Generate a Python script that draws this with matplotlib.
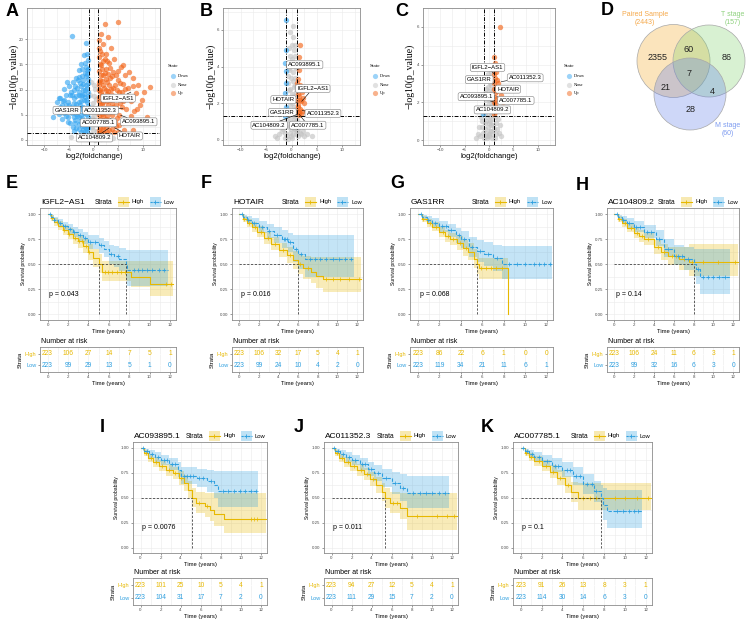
import matplotlib
matplotlib.use("Agg")
import matplotlib.pyplot as plt
from matplotlib.patches import Circle, Rectangle
import numpy as np

plt.rcParams['font.family'] = ['Liberation Sans', 'DejaVu Sans']

W, H = 753, 628
fig = plt.figure(figsize=(W / 100, H / 100), dpi=100)

# ---------------- volcano data (log2FC, -log10 p) ----------------
a_down = [(-4.4, 20.7), (-1.6, 19.2), (-1.3, 17.0), (-2.0, 16.9), (-1.2, 15.8), (-2.5, 15.0), (-1.5, 14.5),
          (-3.0, 13.8), (-1.8, 13.2), (-2.3, 12.6), (-1.2, 12.2), (-3.6, 12.4), (-4.2, 11.5), (-2.8, 11.3),
          (-1.6, 11.0), (-5.0, 10.8), (-3.4, 10.3), (-2.1, 10.0), (-1.2, 9.6), (-6.0, 10.2), (-4.6, 9.6),
          (-5.6, 9.0), (-3.0, 9.0), (-1.8, 8.6), (-6.8, 8.4), (-4.0, 8.3), (-2.5, 7.8), (-1.3, 7.5),
          (-7.5, 7.6), (-5.2, 7.6), (-3.5, 7.2), (-6.3, 6.9), (-4.6, 6.6), (-2.2, 6.6), (-1.5, 6.0),
          (-7.9, 6.1), (-5.8, 5.9), (-3.2, 5.7), (-7.0, 5.2), (-4.3, 5.3), (-2.6, 5.0), (-1.2, 4.6),
          (-5.1, 4.5), (-6.4, 4.2), (-3.7, 4.0), (-1.9, 3.8), (-4.8, 3.3), (-2.9, 3.1), (-1.4, 2.8),
          (-3.5, 2.3), (-2.2, 2.0), (-1.3, 1.6), (-2.6, 1.5), (-8.2, 4.5), (-6.2, 7.8), (-3.9, 9.9),
          (-5.3, 11.6), (-2.4, 14.0), (-1.7, 15.2), (-3.2, 12.0), (-1.4, 10.4), (-2.0, 9.2), (-1.5, 8.0),
          (-2.8, 6.2), (-1.9, 5.4), (-3.0, 4.5), (-2.3, 3.4), (-1.6, 2.3), (-4.0, 6.2), (-2.6, 8.8),
          (-1.1, 14.0), (-1.4, 13.0), (-2.1, 12.0), (-1.1, 11.4), (-2.6, 10.8), (-1.7, 10.0), (-3.0, 9.6),
          (-2.3, 9.0), (-1.1, 8.8), (-3.6, 8.8), (-4.4, 8.9), (-1.9, 7.9), (-3.0, 7.6), (-4.0, 7.4),
          (-4.9, 7.0), (-2.7, 7.0), (-1.2, 6.8), (-3.7, 6.5), (-5.3, 6.4), (-2.0, 5.8), (-3.6, 5.2),
          (-4.7, 5.9), (-6.0, 5.3), (-1.5, 5.2), (-2.4, 4.4), (-3.3, 4.8), (-4.0, 4.6), (-5.6, 4.8),
          (-1.2, 3.6), (-2.8, 3.8), (-3.8, 3.3), (-5.2, 3.6), (-1.9, 2.7), (-2.4, 2.7), (-3.0, 2.2),
          (-4.2, 2.6), (-1.2, 2.3), (-1.8, 1.8), (-3.9, 1.7), (-1.6, 12.6), (-2.9, 12.5), (-1.3, 13.8),
          (-2.2, 11.2), (-3.8, 10.8), (-4.8, 9.0), (-5.6, 7.0), (-6.8, 6.6), (-6.0, 8.0), (-7.1, 8.4)]
a_none = [(-0.5, 11.5), (0.3, 10.2), (-0.7, 9.0), (0.6, 8.1), (-0.2, 7.3), (0.8, 6.4), (-0.6, 5.6),
          (0.2, 4.8), (-0.8, 4.0), (0.5, 3.2), (-0.3, 2.5), (0.7, 1.8), (-0.5, 1.2), (0.1, 0.6),
          (0.9, 0.3), (-0.9, 0.5), (0.4, -0.1), (-2.0, 0.8), (1.8, 0.9), (-3.0, 0.4), (2.8, 0.5),
          (-1.4, 0.2), (1.5, 0.1), (4.0, 0.3), (-4.5, 0.6), (0.0, 8.8), (-0.4, 6.6), (0.5, 5.5),
          (0.2, 3.9), (-0.1, 2.0), (0.4, 1.0), (-0.6, 0.2), (0.7, 0.7), (-0.3, 4.4), (0.1, 10.9)]
a_up = [(2.4, 23.0), (4.9, 23.5), (1.6, 21.0), (3.0, 20.5), (1.2, 19.8), (2.0, 19.0), (3.6, 18.3),
        (1.4, 17.6), (2.6, 17.0), (1.1, 16.4), (4.2, 16.0), (2.0, 15.7), (3.2, 15.3), (1.5, 14.8),
        (5.5, 14.5), (2.6, 14.1), (1.2, 13.6), (4.0, 13.4), (7.2, 13.5), (6.4, 12.8), (2.0, 12.8),
        (3.4, 12.4), (1.4, 12.0), (5.0, 12.0), (8.0, 12.4), (2.8, 11.6), (1.1, 11.0), (4.4, 11.0),
        (6.0, 11.2), (9.0, 11.0), (2.1, 10.4), (3.6, 10.2), (7.0, 10.3), (1.5, 9.6), (5.2, 9.5),
        (2.8, 9.2), (8.6, 9.4), (4.2, 8.8), (1.2, 8.5), (6.4, 8.6), (3.4, 8.0), (2.0, 7.6),
        (7.6, 7.7), (5.4, 7.4), (1.4, 6.9), (9.5, 7.0), (4.0, 6.6), (2.6, 6.4), (6.6, 6.2),
        (1.2, 5.8), (3.4, 5.5), (8.2, 5.7), (5.2, 5.0), (2.0, 4.8), (1.3, 4.2), (3.0, 4.0),
        (10.8, 4.6), (4.4, 3.6), (1.8, 3.2), (6.0, 3.3), (2.6, 2.5), (1.2, 2.0), (3.8, 2.2),
        (8.0, 2.0), (1.6, 1.5), (5.0, 1.6), (2.2, 1.4), (7.0, 1.2), (11.5, 10.5), (1.8, 11.8),
        (2.4, 8.4), (1.7, 5.1), (3.0, 6.9), (2.2, 3.6), (1.3, 10.0), (2.9, 13.0),
        (1.2, 18.2), (1.8, 17.0), (2.3, 16.0), (1.3, 15.0), (2.7, 15.7), (3.4, 14.2), (1.8, 14.0),
        (2.3, 13.2), (3.8, 12.6), (1.5, 12.8), (2.6, 12.2), (4.6, 12.9), (1.2, 11.6), (3.2, 11.0),
        (5.3, 11.4), (1.9, 11.0), (2.5, 10.0), (4.0, 10.4), (1.2, 9.9), (3.0, 9.8), (4.8, 10.0),
        (6.3, 10.2), (1.8, 9.0), (3.6, 9.2), (5.8, 9.6), (2.2, 8.6), (4.6, 8.2), (1.1, 7.8),
        (2.8, 7.8), (3.8, 7.4), (6.0, 7.8), (1.7, 7.2), (4.6, 6.9), (2.2, 6.4), (3.2, 6.2),
        (5.8, 6.6), (1.1, 6.2), (2.4, 5.6), (4.3, 5.8), (1.6, 5.8), (3.8, 4.9), (2.8, 4.8),
        (1.1, 4.9), (4.8, 4.3), (2.5, 4.2), (1.9, 4.0), (3.4, 3.3), (1.1, 3.5), (2.8, 3.2),
        (5.2, 3.0), (2.0, 2.6), (4.5, 2.7), (1.4, 2.6), (3.1, 1.9), (1.9, 1.9), (2.7, 1.6),
        (4.2, 1.5), (6.2, 1.9), (1.1, 1.3), (9.8, 8.0), (8.8, 6.2), (7.6, 4.8), (10.2, 9.5),
        (8.0, 10.8), (7.0, 8.7), (5.0, 13.6), (6.0, 14.8)]
a_labels = [("IGFL2\u2212AS1", 5.0, 8.3, 7.6, 9.5), ("GAS1RR", -5.4, 5.9, -2.5, 6.7),
            ("AC011352.3", 1.4, 5.9, 6.0, 6.3), ("AC007785.1", 1.0, 3.4, 3.6, 4.3),
            ("AC093895.1", 9.2, 3.6, 5.5, 4.9), ("AC104809.2", 0.2, 0.4, 3.2, 2.4),
            ("HOTAIR", 7.4, 0.8, 4.3, 2.4)]

b_down = [(-1.1, 6.57), (-1.1, 4.9), (-1.2, 4.17), (-1.1, 3.74), (-1.1, 3.09), (-1.2, 2.54),
          (-1.2, 2.2), (-1.1, 1.77), (-1.3, 1.33)]
b_none = [(0.3, 5.6), (-0.5, 5.0), (0.6, 4.6), (-0.2, 4.2), (0.8, 3.9), (-0.7, 3.5), (0.2, 3.2),
          (0.9, 2.9), (-0.4, 2.7), (0.5, 2.4), (-0.8, 2.2), (0.1, 2.0), (0.7, 1.7), (-0.6, 1.5),
          (0.3, 1.3), (-0.2, 1.1), (0.8, 0.9), (-0.7, 0.8), (0.4, 0.6), (-0.3, 0.4), (0.9, 0.3),
          (-0.9, 0.2), (0.0, 0.1), (1.5, 0.8), (2.2, 0.5), (-1.6, 0.6), (3.0, 0.3), (-2.4, 0.3),
          (1.3, 0.2), (-1.2, 0.1), (4.0, 0.2), (2.6, 0.9), (-3.2, 0.2), (-0.1, 0.6), (0.5, 1.0),
          (1.9, 0.3), (-2.0, 1.0), (0.2, 6.2), (-0.4, 3.8), (0.6, 3.0), (1.1, 0.5), (-0.6, 0.05),
          (0.0, 5.2), (0.4, 4.9), (-0.3, 4.6), (0.1, 4.4), (0.5, 4.1), (-0.5, 3.9), (0.3, 3.7),
          (-0.1, 3.4), (0.6, 3.4), (-0.6, 3.1), (0.4, 2.9), (-0.2, 2.8), (0.8, 2.6), (0.1, 2.5),
          (-0.5, 2.3), (0.3, 2.2), (0.9, 2.1), (-0.3, 1.9), (0.5, 1.8), (-0.8, 1.7), (0.2, 1.6),
          (0.8, 1.4), (-0.4, 1.4), (0.6, 1.2), (-0.8, 1.1), (0.1, 0.9), (-0.5, 0.7), (0.7, 0.6),
          (1.2, 0.6), (-1.2, 0.4), (1.7, 0.4), (-1.9, 0.5), (2.4, 0.2), (-2.8, 0.1), (0.3, 0.3),
          (-0.1, 0.2), (1.0, 1.1), (0.6, 5.2), (-0.2, 5.9)]
b_up = [(1.6, 5.2), (1.5, 4.5), (1.4, 3.8), (1.3, 3.3), (1.7, 3.0), (1.2, 2.8), (2.0, 2.6),
        (1.5, 2.4), (1.1, 2.2), (1.8, 2.1), (2.4, 2.0), (1.3, 1.9), (1.6, 1.7), (2.1, 1.6),
        (1.2, 1.5), (1.9, 1.4), (2.8, 1.5), (1.4, 1.35), (2.2, 2.3), (1.1, 3.1), (1.3, 2.5),
        (1.7, 2.2), (1.2, 1.8), (1.5, 1.5)]
b_labels = [("AC093895.1", 2.6, 4.1, 1.4, 3.85), ("IGFL2\u2212AS1", 4.2, 2.8, 2.0, 2.1),
            ("HOTAIR", -1.6, 2.2, 1.3, 2.0), ("GAS1RR", -1.8, 1.5, 1.3, 1.6),
            ("AC011352.3", 6.2, 1.45, 2.1, 1.6), ("AC104809.2", -4.4, 0.8, 1.2, 1.4),
            ("AC007785.1", 3.2, 0.8, 1.5, 1.4)]

c_down = [(-1.3, 1.4), (-1.1, 1.6)]
c_none = [(0.2, 3.0), (-0.6, 2.7), (0.5, 2.5), (-0.3, 2.2), (0.8, 2.0), (-0.8, 1.8), (0.1, 1.6),
          (0.6, 1.4), (-0.5, 1.2), (0.3, 1.0), (-0.9, 0.9), (0.9, 0.8), (-0.2, 0.7), (0.4, 0.5),
          (-0.6, 0.4), (0.7, 0.3), (-0.4, 0.1), (0.1, 0.2), (1.4, 0.9), (-1.5, 0.7), (2.0, 0.4),
          (-2.2, 0.3), (1.2, 0.1), (-1.1, 0.1), (1.8, 1.1), (-1.7, 1.2), (0.0, 2.6), (-0.1, 1.9),
          (-0.2, 2.8), (0.4, 2.9), (-0.5, 2.4), (0.7, 2.3), (-0.1, 2.1), (0.3, 2.2), (-0.7, 2.1),
          (0.5, 1.8), (-0.3, 1.6), (0.8, 1.6), (-0.9, 1.4), (0.2, 1.3), (-0.6, 1.0), (0.7, 1.1),
          (-0.1, 0.9), (0.5, 0.8), (-0.8, 0.6), (0.2, 0.5), (1.0, 0.6), (-1.2, 0.4), (1.5, 0.3),
          (-1.8, 0.2), (2.4, 0.2), (-2.6, 0.1), (0.0, 0.3), (-0.4, 0.2), (0.6, 0.1), (1.7, 0.6),
          (-1.4, 1.0), (1.3, 1.2), (-2.0, 0.7), (2.2, 0.8), (0.9, 2.7), (-0.9, 2.5), (0.1, 3.3),
          (-0.3, 3.5), (0.4, 3.6)]
c_up = [(2.3, 6.0), (1.0, 4.4), (1.2, 4.1), (1.1, 3.8), (1.4, 3.6), (1.0, 3.5), (1.3, 3.3),
        (1.6, 3.2), (1.1, 3.0), (1.4, 2.8), (1.0, 2.7), (1.2, 2.5), (1.7, 2.6), (1.1, 2.3),
        (1.5, 2.2), (1.0, 2.0), (1.3, 1.9), (2.0, 2.1), (1.1, 1.7), (1.6, 1.6), (1.2, 1.5),
        (1.0, 1.4), (2.4, 2.4), (2.8, 2.0), (1.8, 3.0)]
c_labels = [("IGFL2\u2212AS1", -0.3, 3.85, 1.1, 3.5), ("GAS1RR", -2.0, 3.2, 1.0, 3.0),
            ("AC011352.3", 7.4, 3.3, 2.5, 3.1), ("HOTAIR", 3.9, 2.7, 1.5, 2.6),
            ("AC093895.1", -2.6, 2.3, 1.2, 2.0), ("AC007785.1", 5.5, 2.1, 1.6, 2.3),
            ("AC104809.2", 0.7, 1.6, 1.3, 1.5)]

# ---------------- Venn data ----------------
venn_sets = ["Paired Sample", "T stage", "M stage"]
venn_totals = [2443, 157, 60]
venn_counts = {"P": 2355, "T": 86, "M": 28, "PT": 60, "PM": 21, "TM": 4, "PTM": 7}

# ---------------- survival data (time, survival, lower CI, upper CI) ----------------
risk_times = [0, 2, 4, 6, 8, 10, 12]

e_h_t = [0, 0.3, 0.6, 1.0, 1.5, 2.0, 2.5, 3.0, 3.5, 4.0, 4.5, 5.0, 5.3, 8.2, 10.0]
e_h_s = [1.0, 0.96, 0.92, 0.88, 0.84, 0.80, 0.76, 0.73, 0.68, 0.62, 0.56, 0.50, 0.42, 0.37, 0.30]
e_h_lo = [1.0, 0.93, 0.88, 0.84, 0.79, 0.75, 0.70, 0.66, 0.61, 0.54, 0.47, 0.41, 0.33, 0.27, 0.18]
e_h_hi = [1.0, 0.99, 0.96, 0.93, 0.89, 0.86, 0.82, 0.79, 0.75, 0.70, 0.65, 0.60, 0.53, 0.53, 0.53]
e_l_t = [0, 0.3, 0.6, 1.0, 1.5, 2.0, 2.5, 3.0, 3.5, 4.0, 5.0, 5.5, 6.0, 6.5, 7.0, 7.7, 7.8]
e_l_s = [1.0, 0.97, 0.94, 0.91, 0.88, 0.85, 0.82, 0.79, 0.76, 0.72, 0.69, 0.65, 0.60, 0.58, 0.55, 0.50, 0.44]
e_l_lo = [1.0, 0.95, 0.91, 0.87, 0.84, 0.80, 0.77, 0.73, 0.70, 0.65, 0.61, 0.57, 0.50, 0.47, 0.43, 0.36, 0.28]
e_l_hi = [1.0, 0.99, 0.97, 0.95, 0.92, 0.90, 0.87, 0.85, 0.82, 0.79, 0.76, 0.73, 0.69, 0.68, 0.66, 0.64, 0.64]
e_h_cens = [0.4, 0.9, 1.6, 2.1, 2.7, 3.1, 3.4, 3.8, 4.1, 5.6, 5.9, 6.3, 6.8, 7.2, 7.6, 11.6, 12.1]
e_l_cens = [0.2, 0.6, 1.2, 1.7, 2.2, 2.6, 3.2, 3.7, 4.2, 4.6, 5.2, 6.2, 6.9, 8.5, 8.9, 9.3, 9.8, 10.2, 10.9, 11.4]
e_risk_h = [223, 106, 27, 14, 7, 5, 1]
e_risk_l = [223, 99, 29, 13, 5, 1, 0]

f_h_t = [0, 0.4, 0.8, 1.3, 1.8, 2.5, 3.2, 4.0, 4.9, 5.5, 6.0, 6.5, 7.3, 7.8, 8.5]
f_h_s = [1.0, 0.95, 0.91, 0.87, 0.82, 0.76, 0.70, 0.64, 0.59, 0.54, 0.50, 0.46, 0.42, 0.38, 0.35]
f_h_lo = [1.0, 0.92, 0.87, 0.82, 0.77, 0.70, 0.64, 0.57, 0.51, 0.45, 0.40, 0.35, 0.31, 0.26, 0.22]
f_h_hi = [1.0, 0.98, 0.95, 0.92, 0.88, 0.82, 0.77, 0.71, 0.67, 0.63, 0.60, 0.58, 0.57, 0.57, 0.57]
f_l_t = [0, 0.4, 0.8, 1.3, 2.0, 2.8, 3.5, 4.3, 5.0, 5.5, 6.0, 6.7]
f_l_s = [1.0, 0.97, 0.94, 0.91, 0.87, 0.83, 0.79, 0.75, 0.72, 0.65, 0.60, 0.55]
f_l_lo = [1.0, 0.94, 0.90, 0.86, 0.81, 0.76, 0.71, 0.66, 0.62, 0.52, 0.45, 0.37]
f_l_hi = [1.0, 0.99, 0.98, 0.96, 0.93, 0.90, 0.87, 0.84, 0.81, 0.79, 0.79, 0.79]
f_h_cens = [0.5, 1.0, 1.6, 2.2, 2.9, 3.6, 4.4, 5.2, 6.2, 7.0, 8.8, 9.5, 10.3, 11.2, 12.2]
f_l_cens = [0.3, 0.9, 1.5, 2.3, 3.0, 3.8, 4.5, 4.7, 4.9, 5.2, 5.8, 6.3, 7.2, 7.7, 8.2, 8.8, 9.5, 10.2, 10.8, 11.4]
f_risk_h = [223, 106, 32, 17, 5, 4, 1]
f_risk_l = [223, 99, 24, 10, 4, 2, 0]

g_h_t = [0, 0.4, 0.8, 1.3, 2.0, 2.5, 3.0, 3.6, 4.2, 4.7, 5.2, 5.5, 5.7, 8.4]
g_h_s = [1.0, 0.95, 0.91, 0.87, 0.82, 0.78, 0.75, 0.71, 0.66, 0.62, 0.55, 0.50, 0.46, 0.0]
g_h_lo = [1.0, 0.92, 0.87, 0.83, 0.77, 0.72, 0.69, 0.64, 0.58, 0.54, 0.46, 0.40, 0.35, 0.0]
g_h_hi = [1.0, 0.98, 0.95, 0.92, 0.87, 0.84, 0.81, 0.78, 0.74, 0.71, 0.65, 0.61, 0.56, 0.0]
g_l_t = [0, 0.4, 0.8, 1.3, 2.0, 2.8, 3.5, 4.0, 4.8, 5.5, 6.2, 7.0, 7.8]
g_l_s = [1.0, 0.97, 0.94, 0.91, 0.88, 0.84, 0.79, 0.75, 0.67, 0.63, 0.60, 0.56, 0.50]
g_l_lo = [1.0, 0.94, 0.90, 0.86, 0.82, 0.77, 0.71, 0.66, 0.57, 0.52, 0.48, 0.43, 0.35]
g_l_hi = [1.0, 0.99, 0.98, 0.96, 0.93, 0.90, 0.86, 0.83, 0.77, 0.74, 0.72, 0.69, 0.68]
g_h_cens = [0.5, 1.1, 1.7, 2.3, 2.8, 3.3, 3.9, 4.5, 5.9, 6.3, 6.8, 7.3, 7.8]
g_l_cens = [0.3, 0.9, 1.6, 2.2, 2.6, 3.1, 3.8, 4.3, 5.0, 5.8, 6.5, 7.4, 8.5, 9.2, 10.0, 10.8, 11.3, 11.8, 12.3]
g_risk_h = [223, 86, 22, 6, 1, 0, 0]
g_risk_l = [223, 119, 34, 21, 11, 6, 1]

h_h_t = [0, 0.4, 0.8, 1.3, 2.0, 2.5, 3.0, 4.0, 4.7, 5.4, 6.5, 7.5]
h_h_s = [1.0, 0.95, 0.91, 0.86, 0.81, 0.78, 0.75, 0.67, 0.62, 0.58, 0.55, 0.52]
h_h_lo = [1.0, 0.92, 0.87, 0.82, 0.76, 0.72, 0.69, 0.60, 0.54, 0.49, 0.44, 0.38]
h_h_hi = [1.0, 0.98, 0.95, 0.91, 0.87, 0.84, 0.81, 0.74, 0.70, 0.67, 0.67, 0.70]
h_l_t = [0, 0.4, 0.8, 1.3, 2.0, 3.0, 4.2, 5.0, 6.0, 7.0, 8.0, 8.3, 8.7]
h_l_s = [1.0, 0.97, 0.94, 0.91, 0.87, 0.82, 0.75, 0.65, 0.58, 0.55, 0.50, 0.45, 0.37]
h_l_lo = [1.0, 0.94, 0.90, 0.86, 0.82, 0.76, 0.68, 0.57, 0.49, 0.44, 0.37, 0.30, 0.20]
h_l_hi = [1.0, 0.99, 0.98, 0.96, 0.93, 0.89, 0.84, 0.75, 0.69, 0.67, 0.65, 0.65, 0.65]
h_h_cens = [0.5, 1.1, 1.7, 2.3, 2.8, 3.4, 4.4, 5.0, 5.8, 6.2, 7.0, 7.8, 9.0, 10.5, 12.2]
h_l_cens = [0.3, 0.9, 1.5, 2.2, 2.6, 3.3, 3.7, 4.5, 5.4, 6.4, 6.8, 7.4, 8.5, 9.0, 9.5, 10.0, 10.6, 11.2]
h_risk_h = [223, 106, 24, 11, 6, 3, 1]
h_risk_l = [223, 99, 32, 16, 6, 3, 0]

i_h_t = [0, 0.3, 0.7, 1.2, 1.8, 2.5, 3.2, 3.8, 4.3, 4.7, 5.1, 5.5, 6.4, 6.9, 7.3, 8.3]
i_h_s = [1.0, 0.95, 0.90, 0.86, 0.82, 0.78, 0.75, 0.70, 0.65, 0.58, 0.50, 0.45, 0.42, 0.38, 0.34, 0.29]
i_h_lo = [1.0, 0.92, 0.86, 0.81, 0.77, 0.72, 0.69, 0.63, 0.57, 0.50, 0.41, 0.35, 0.31, 0.27, 0.22, 0.15]
i_h_hi = [1.0, 0.98, 0.94, 0.91, 0.88, 0.84, 0.81, 0.77, 0.73, 0.67, 0.60, 0.56, 0.55, 0.55, 0.55, 0.55]
i_l_t = [0, 0.3, 0.8, 1.4, 2.0, 2.8, 3.7, 4.0, 5.6, 6.6, 7.3, 7.7]
i_l_s = [1.0, 0.97, 0.94, 0.91, 0.88, 0.84, 0.78, 0.72, 0.70, 0.67, 0.63, 0.57]
i_l_lo = [1.0, 0.94, 0.90, 0.86, 0.83, 0.78, 0.71, 0.64, 0.61, 0.56, 0.50, 0.41]
i_l_hi = [1.0, 0.99, 0.98, 0.96, 0.93, 0.90, 0.86, 0.81, 0.79, 0.78, 0.77, 0.77]
i_h_cens = [0.5, 1.0, 1.5, 2.1, 2.8, 3.4, 4.0, 5.8, 6.6, 11.0, 11.3, 11.6]
i_l_cens = [0.2, 0.6, 1.1, 1.7, 2.3, 2.6, 3.1, 3.4, 4.3, 4.6, 4.9, 5.2, 5.8, 6.2, 7.0, 8.2, 8.7, 9.3, 9.9, 10.4, 11.0, 11.5]
i_risk_h = [223, 101, 25, 10, 5, 4, 1]
i_risk_l = [223, 104, 31, 17, 7, 2, 0]

j_h_t = [0, 0.3, 0.7, 1.2, 1.8, 2.5, 3.2, 3.8, 4.4, 5.0, 5.3, 5.8, 6.8, 7.5]
j_h_s = [1.0, 0.95, 0.90, 0.86, 0.82, 0.78, 0.74, 0.69, 0.63, 0.56, 0.50, 0.45, 0.40, 0.32]
j_h_lo = [1.0, 0.92, 0.86, 0.81, 0.77, 0.72, 0.68, 0.62, 0.55, 0.47, 0.40, 0.35, 0.29, 0.18]
j_h_hi = [1.0, 0.98, 0.94, 0.91, 0.88, 0.84, 0.80, 0.76, 0.71, 0.65, 0.60, 0.56, 0.55, 0.55]
j_l_t = [0, 0.3, 0.8, 1.4, 2.0, 2.8, 3.6, 4.2, 5.0, 6.0, 6.8, 7.5]
j_l_s = [1.0, 0.97, 0.94, 0.91, 0.88, 0.84, 0.79, 0.75, 0.70, 0.65, 0.60, 0.55]
j_l_lo = [1.0, 0.94, 0.90, 0.86, 0.83, 0.78, 0.72, 0.67, 0.61, 0.54, 0.47, 0.40]
j_l_hi = [1.0, 0.99, 0.98, 0.96, 0.93, 0.90, 0.86, 0.83, 0.79, 0.76, 0.74, 0.72]
j_h_cens = [0.5, 1.0, 1.6, 2.2, 2.9, 3.5, 4.1, 6.1, 6.5, 8.5, 10.5, 11.5, 12.2]
j_l_cens = [0.2, 0.6, 1.1, 1.7, 2.3, 3.0, 3.3, 3.9, 4.6, 5.4, 6.3, 7.1, 8.1, 8.8, 9.4, 10.0, 10.7, 11.3]
j_risk_h = [223, 94, 27, 12, 5, 4, 1]
j_risk_l = [223, 111, 29, 15, 7, 2, 0]

k_h_t = [0, 0.4, 0.8, 1.3, 2.0, 2.8, 3.5, 4.2, 4.8, 5.5]
k_h_s = [1.0, 0.95, 0.91, 0.87, 0.82, 0.76, 0.70, 0.63, 0.56, 0.50]
k_h_lo = [1.0, 0.92, 0.87, 0.82, 0.77, 0.70, 0.63, 0.55, 0.46, 0.38]
k_h_hi = [1.0, 0.98, 0.95, 0.92, 0.88, 0.83, 0.78, 0.72, 0.66, 0.65]
k_l_t = [0, 0.4, 0.8, 1.3, 2.0, 3.0, 4.0, 5.0, 6.0, 7.0, 7.7, 7.9, 8.3]
k_l_s = [1.0, 0.97, 0.94, 0.91, 0.87, 0.82, 0.78, 0.72, 0.64, 0.57, 0.50, 0.43, 0.37]
k_l_lo = [1.0, 0.94, 0.90, 0.86, 0.82, 0.76, 0.71, 0.63, 0.54, 0.46, 0.38, 0.28, 0.20]
k_l_hi = [1.0, 0.99, 0.98, 0.96, 0.93, 0.90, 0.86, 0.81, 0.74, 0.67, 0.63, 0.60, 0.58]
k_h_cens = [0.5, 1.0, 1.7, 2.4, 3.1, 3.8, 4.5, 6.0, 6.6, 7.2, 9.0, 10.0, 11.2, 12.2]
k_l_cens = [0.2, 0.6, 1.1, 1.7, 2.5, 3.3, 3.6, 4.4, 4.7, 5.3, 5.7, 6.4, 6.8, 7.2, 9.2, 9.8, 10.4, 10.9, 11.3]
k_risk_h = [223, 91, 26, 13, 8, 3, 1]
k_risk_l = [223, 114, 30, 14, 6, 3, 0]

GOLD, BLUE = "#E7B800", "#2E9FDF"
C_DOWN, C_NONE, C_UP = "#3AA8F2", "#C4C4C4", "#F3671C"
GRID = "#EBEBEB"


def px_ax(l, t, r, b):
    return fig.add_axes([l / W, 1 - b / H, (r - l) / W, (b - t) / H])


def ftxt(x, y, s, **kw):
    fig.text(x / W, 1 - y / H, s, **kw)


def style_box(ax):
    for sp in ax.spines.values():
        sp.set_color("#8C8C8C")
        sp.set_linewidth(0.6)
    ax.tick_params(length=1.5, width=0.4, colors="#4D4D4D", labelsize=3.2, pad=1)
    ax.grid(True, which="both", color=GRID, lw=0.4)
    ax.set_axisbelow(True)


def volcano(box, ylim, yticks, down, none, up, labels):
    ax = px_ax(*box)
    ax.set_xlim(-13.5, 13.5)
    ax.set_ylim(*ylim)
    ax.set_xticks([-10, -5, 0, 5, 10])
    ax.set_yticks(yticks)
    ax.set_xticks([-12.5, -7.5, -2.5, 2.5, 7.5, 12.5], minor=True)
    ax.set_yticks([v + (yticks[1] - yticks[0]) / 2 for v in yticks], minor=True)
    style_box(ax)
    ax.tick_params(which="minor", length=0)
    for pts, col in ((none, C_NONE), (down, C_DOWN), (up, C_UP)):
        xs, ys = zip(*pts)
        ax.scatter(xs, ys, s=15, color=col, alpha=0.65, lw=0, zorder=2)
    dd = (0, (4, 1.5, 1, 1.5))
    ax.axvline(-1, color="black", lw=0.7, ls=dd, zorder=3)
    ax.axvline(1, color="black", lw=0.7, ls=dd, zorder=3)
    ax.axhline(-np.log10(0.05), color="black", lw=0.7, ls=dd, zorder=3)
    for name, lx, ly, px, py in labels:
        ax.annotate(name, xy=(px, py), xytext=(lx, ly), fontsize=4.3, ha="center", va="center",
                    bbox=dict(boxstyle="round,pad=0.25,rounding_size=0.3", fc="white", ec="#7F7F7F", lw=0.4),
                    arrowprops=dict(arrowstyle="-", lw=0.4, color="black", shrinkA=0, shrinkB=0),
                    zorder=5)
    return ax


def volcano_text(cx, ylab_x, leg_x):
    ftxt(ylab_x, 76, "\u2212log10(p_value)", rotation=90, ha="center", va="center",
         fontsize=7, family="Liberation Serif")
    ftxt(cx, 157, "log2(foldchange)", ha="center", va="center", fontsize=5.5)
    ftxt(leg_x, 66, "State", ha="left", va="center", fontsize=3.8, family="Liberation Serif")
    for yy, lab, col in ((76, "Down", C_DOWN), (84.5, "None", C_NONE), (93, "Up", C_UP)):
        ov.scatter([leg_x + 5], [yy], s=14, color=col, alpha=0.5, lw=0)
        ftxt(leg_x + 10, yy, lab, ha="left", va="center", fontsize=3.2, family="Liberation Serif")


def step_xy(t, v, tend):
    return list(t) + [tend], list(v) + [v[-1]]


def km(box, rrange, name, pval, high, low, medians, risk_h, risk_l):
    l, t, r, b = box
    ax = px_ax(l, t, r, b)
    ax.set_xlim(-0.75, 12.6)
    ax.set_ylim(-0.055, 1.06)
    ax.set_xticks(range(0, 13, 2))
    ax.set_xticks(range(1, 13, 2), minor=True)
    ax.set_yticks([0, 0.25, 0.5, 0.75, 1.0])
    ax.set_yticks([0.125, 0.375, 0.625, 0.875], minor=True)
    ax.set_yticklabels(["0.00", "0.25", "0.50", "0.75", "1.00"])
    style_box(ax)
    ax.tick_params(which="minor", length=0)
    for (tt, ss, lo, hi, tend, cens), col, ls in ((high, GOLD, "-"), (low, BLUE, (0, (3, 1.5)))):
        x, y = step_xy(tt, ss, tend)
        _, ylo = step_xy(tt, lo, tend)
        _, yhi = step_xy(tt, hi, tend)
        ax.fill_between(x, ylo, yhi, step="post", color=col, alpha=0.28, lw=0)
        ax.step(x, y, where="post", color=col, lw=0.8, ls=ls)
        idx = np.searchsorted(tt, cens, side="right") - 1
        ax.plot(cens, np.array(ss)[idx], ls="none", marker="+", ms=2.6, mew=0.5, color=col)
    ax.plot([0, max(medians)], [0.5, 0.5], color="#333333", lw=0.55, ls=(0, (3, 2)))
    for m in medians:
        ax.plot([m, m], [0, 0.5], color="#333333", lw=0.55, ls=(0, (3, 2)))
    ax.text(0.15, 0.2, "p = " + pval, fontsize=5, ha="left", va="center")
    ax.set_ylabel("Survival probability", fontsize=3.6, labelpad=1.5)
    ax.set_xlabel("Time (years)", fontsize=4.2, labelpad=1)

    # title and legend
    ftxt(l + 1, t - 6, name, fontsize=6.0, ha="left", va="center")
    ftxt(r - 81, t - 6, "Strata", fontsize=4.8, ha="left", va="center")
    for x0, col, lab, ls in ((r - 58, GOLD, "High", "-"), (r - 26, BLUE, "Low", (0, (2, 1)))):
        ov.add_patch(Rectangle((x0, t - 11), 11, 10, color=col, alpha=0.3, lw=0))
        ov.plot([x0, x0 + 11], [t - 6, t - 6], color=col, lw=0.8, ls=ls)
        ov.plot([x0 + 5.5], [t - 6], marker="+", ms=3, mew=0.6, color=col)
        ftxt(x0 + 14, t - 6, lab, fontsize=4.2, ha="left", va="center")

    # risk table
    rt, rb = rrange
    rx = px_ax(l, rt, r, rb)
    rx.set_xlim(-0.75, 12.6)
    rx.set_ylim(-0.6, 1.6)
    rx.set_xticks(range(0, 13, 2))
    rx.set_xticks(range(1, 13, 2), minor=True)
    rx.set_yticks([1, 0])
    rx.set_yticklabels(["High", "Low"])
    style_box(rx)
    rx.tick_params(which="minor", length=0)
    rx.tick_params(axis="y", labelsize=4)
    rx.grid(True, axis="y", color="white")
    for lab, col in zip(rx.get_yticklabels(), (GOLD, BLUE)):
        lab.set_color(col)
    for tm, nh, nl in zip(risk_times, risk_h, risk_l):
        rx.text(tm, 1, str(nh), color=GOLD, fontsize=4.8, ha="center", va="center")
        rx.text(tm, 0, str(nl), color=BLUE, fontsize=4.8, ha="center", va="center")
    rx.set_xlabel("Time (years)", fontsize=4.2, labelpad=1)
    rx.set_ylabel("Strata", fontsize=4.3, labelpad=1.5)
    ftxt(l + 1, rt - 6, "Number at risk", fontsize=5, ha="left", va="center")


ov = fig.add_axes([0, 0, 1, 1], zorder=10)
ov.set_xlim(0, W)
ov.set_ylim(H, 0)
ov.axis("off")

# ---------------- panels A-C ----------------
volcano((27, 8, 160, 145), (-1.0, 26.2), [0, 5, 10, 15, 20], a_down, a_none, a_up, a_labels)
volcano_text(94, 14, 168)
volcano((223, 8, 360, 145), (-0.28, 7.2), [0, 2, 4, 6], b_down, b_none, b_up, b_labels)
volcano_text(292, 211, 370)
volcano((423, 8, 555, 145), (-0.26, 6.8), [0, 2, 4, 6], c_down, c_none, c_up, c_labels)
volcano_text(489, 410, 564)

# ---------------- panel D (Venn) ----------------
vx = px_ax(600, 0, 753, 150)
vx.set_xlim(600, 753)
vx.set_ylim(150, 0)
vx.axis("off")
circ = [((673.5, 61), 36.5, "#F5A623"), ((709, 61), 36, "#7ED36A"), ((690, 94), 36, "#5D7BEB")]
for (c, rad, col) in circ:
    vx.add_patch(Circle(c, rad, fc=col, alpha=0.3, ec="none"))
    vx.add_patch(Circle(c, rad, fc="none", ec="#A8A8A8", lw=0.5))
count_pos = {"P": (658, 58), "PT": (689, 50), "T": (727, 58), "PTM": (689, 73),
             "PM": (666, 88), "TM": (712, 92), "M": (691, 109)}
for k, (x, y) in count_pos.items():
    vx.text(x, y, str(venn_counts[k]), fontsize=6.5, ha="center", va="center", color="#222222")
set_pos = [(645, 15, "#F5A94B"), (733, 15, "#8FD17F"), (728, 125, "#7E9CF0")]
for name, tot, (x, y, col) in zip(venn_sets, venn_totals, set_pos):
    vx.text(x, y, name, fontsize=5, ha="center", va="center", color=col)
    vx.text(x, y + 8, "(%d)" % tot, fontsize=5, ha="center", va="center", color=col)

# ---------------- panels E-K ----------------
row1 = (347, 372)
row2 = (578, 605)
km((40, 208, 176, 320), row1, "IGFL2\u2212AS1", "0.043",
   (e_h_t, e_h_s, e_h_lo, e_h_hi, 12.3, e_h_cens), (e_l_t, e_l_s, e_l_lo, e_l_hi, 11.8, e_l_cens),
   [5.0, 7.7], e_risk_h, e_risk_l)
km((232, 208, 363, 320), row1, "HOTAIR", "0.016",
   (f_h_t, f_h_s, f_h_lo, f_h_hi, 12.4, f_h_cens), (f_l_t, f_l_s, f_l_lo, f_l_hi, 11.7, f_l_cens),
   [6.0], f_risk_h, f_risk_l)
km((410, 208, 553, 320), row1, "GAS1RR", "0.068",
   (g_h_t, g_h_s, g_h_lo, g_h_hi, 8.4, g_h_cens), (g_l_t, g_l_s, g_l_lo, g_l_hi, 12.5, g_l_cens),
   [5.5], g_risk_h, g_risk_l)
km((607, 208, 739, 320), row1, "AC104809.2", "0.14",
   (h_h_t, h_h_s, h_h_lo, h_h_hi, 12.5, h_h_cens), (h_l_t, h_l_s, h_l_lo, h_l_hi, 11.7, h_l_cens),
   [8.0], h_risk_h, h_risk_l)
km((133, 442, 267, 553), row2, "AC093895.1", "0.0076",
   (i_h_t, i_h_s, i_h_lo, i_h_hi, 12.5, i_h_cens), (i_l_t, i_l_s, i_l_lo, i_l_hi, 11.7, i_l_cens),
   [5.1], i_risk_h, i_risk_l)
km((324, 442, 458, 553), row2, "AC011352.3", "0.011",
   (j_h_t, j_h_s, j_h_lo, j_h_hi, 12.5, j_h_cens), (j_l_t, j_l_s, j_l_lo, j_l_hi, 11.7, j_l_cens),
   [5.3], j_risk_h, j_risk_l)
km((513, 442, 652, 553), row2, "AC007785.1", "0.1",
   (k_h_t, k_h_s, k_h_lo, k_h_hi, 12.5, k_h_cens), (k_l_t, k_l_s, k_l_lo, k_l_hi, 11.6, k_l_cens),
   [7.7], k_risk_h, k_risk_l)

# panel letters
for lab, x, y in (("A", 6, 3), ("B", 200, 3), ("C", 395, 3), ("D", 601, 2), ("E", 6, 175),
                  ("F", 201, 175), ("G", 390, 175), ("H", 576, 177), ("I", 100, 419),
                  ("J", 294, 419), ("K", 481, 419)):
    ftxt(x, y, lab, fontsize=13, fontweight="bold", ha="left", va="top")

fig.savefig("out.png", dpi=100)
